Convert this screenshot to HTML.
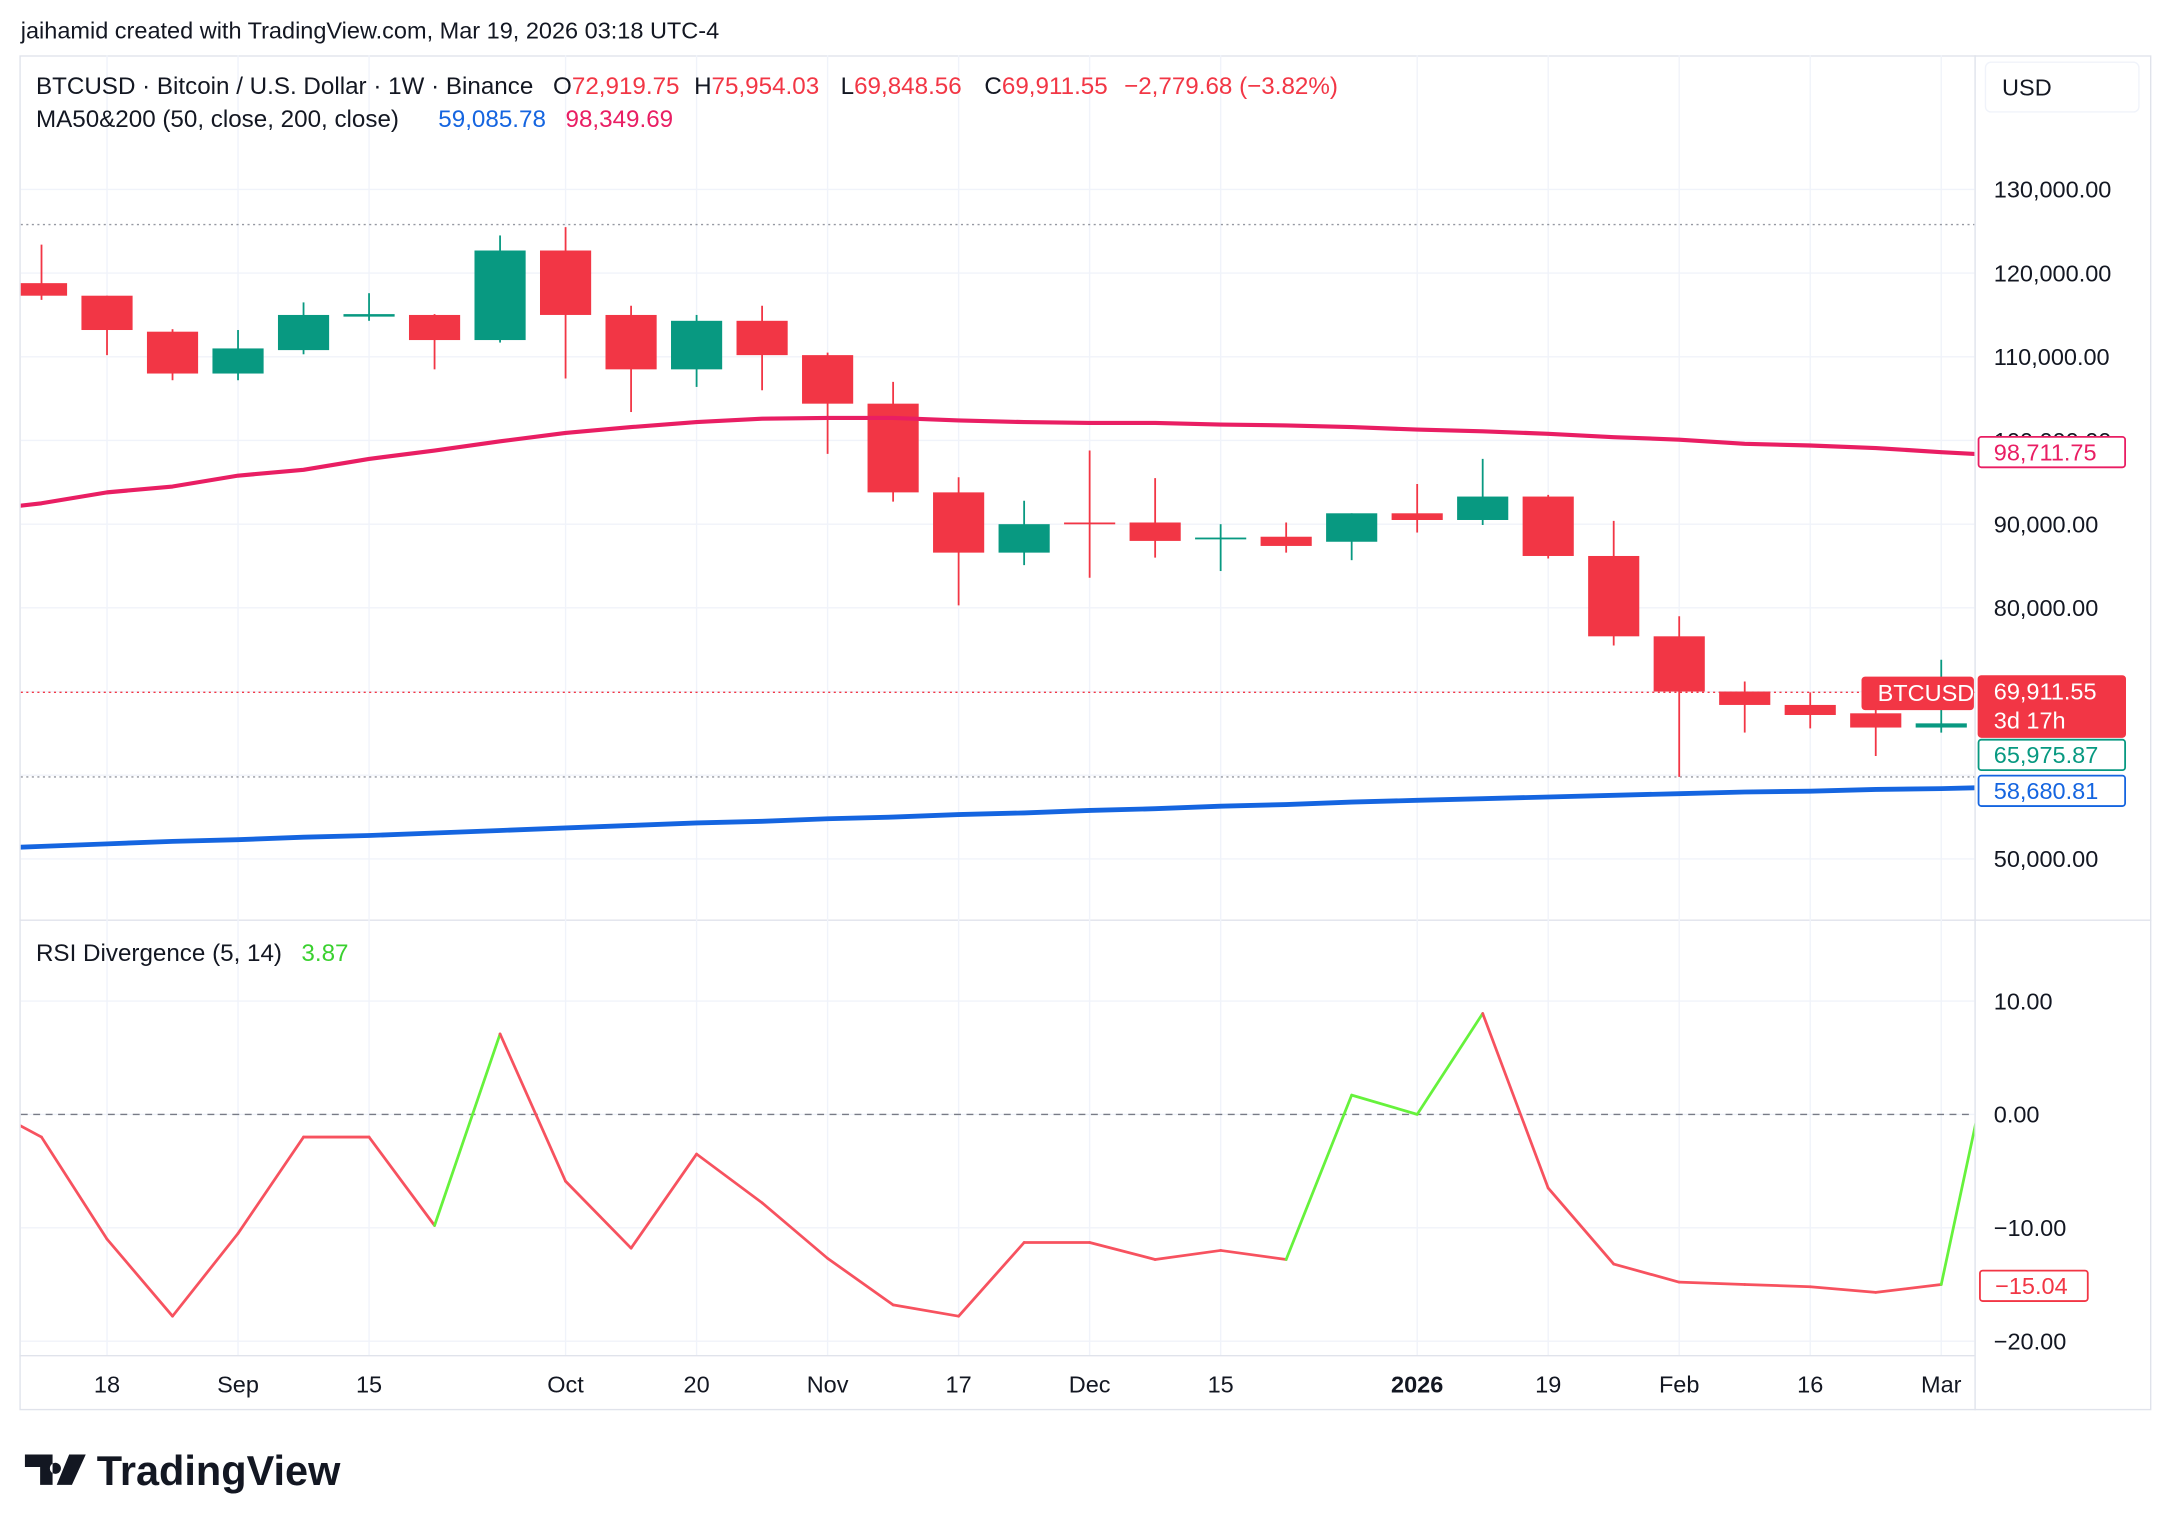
<!DOCTYPE html>
<html><head><meta charset="utf-8"><style>
html,body{margin:0;padding:0;background:#fff;}
svg{display:block;font-family:"Liberation Sans",sans-serif;}
</style></head><body>
<svg id="c" width="2168" height="1530" viewBox="0 0 1568 1106.6" xmlns="http://www.w3.org/2000/svg">
<defs><clipPath id="clipMain"><rect x="15" y="40" width="1413" height="625"/></clipPath>
<clipPath id="clipRsi"><rect x="15" y="666" width="1413" height="314"/></clipPath></defs>
<rect width="1568" height="1106.6" fill="#fff"/>
<text x="15" y="28" font-size="17" fill="#131722">jaihamid created with TradingView.com, Mar 19, 2026 03:18 UTC-4</text>
<rect x="14.5" y="40.5" width="1541" height="979" fill="none" stroke="#e0e3eb"/>
<line x1="1428.5" y1="40" x2="1428.5" y2="1020" stroke="#e0e3eb"/>
<line x1="14" y1="665.5" x2="1556" y2="665.5" stroke="#e0e3eb"/>
<line x1="14" y1="980.5" x2="1428" y2="980.5" stroke="#e0e3eb"/>
<g id="grid"></g>
<g id="main" clip-path="url(#clipMain)"></g>
<g id="rsi" clip-path="url(#clipRsi)"></g>
<g id="axes"></g>
<g font-size="17.5">
<text x="26" y="68" fill="#131722">BTCUSD · Bitcoin / U.S. Dollar · 1W · Binance</text>
<text x="400" y="68" fill="#131722">O<tspan fill="#f23645">72,919.75</tspan></text>
<text x="502" y="68" fill="#131722">H<tspan fill="#f23645">75,954.03</tspan></text>
<text x="608" y="68" fill="#131722">L<tspan fill="#f23645">69,848.56</tspan></text>
<text x="712" y="68" fill="#131722">C<tspan fill="#f23645">69,911.55</tspan></text>
<text x="813" y="68" fill="#f23645">−2,779.68 (−3.82%)</text>
<text x="26" y="92" fill="#131722">MA50&amp;200 (50, close, 200, close)</text>
<text x="317" y="92" fill="#1565e0">59,085.78</text>
<text x="409" y="92" fill="#e91e63">98,349.69</text>
<text x="26" y="695" fill="#131722">RSI Divergence (5, 14)</text>
<text x="218" y="695" fill="#3ad12f">3.87</text>
</g>
<rect x="1436" y="45" width="111" height="36" rx="4" fill="#fff" stroke="#f0f3fa"/>
<text x="1448" y="69" font-size="17" fill="#131722">USD</text>
<g>
<path d="M18 1052h20v22h-9v-13h-11z M40 1058a4 4 0 1 0 0.1 0z M50 1052h12l-10 22h-11z" fill="#131722"/>
<text x="70" y="1074" font-size="30" font-weight="bold" fill="#131722">TradingView</text>
</g>
</svg>
<script>
const cats=["Aug 11","18","Aug 25","Sep","Sep 8","15","Sep 22","Sep 29","Oct","Oct 13","20","Oct 27","Nov","Nov 10","17","Nov 24","Dec","Dec 8","15","Dec 22","Dec 29","2026","Jan 12","19","Jan 26","Feb","Feb 9","16","Feb 23","Mar"];
const opens=[118800,117300,113000,108000,110800,114800,115000,112000,122700,115000,108500,114300,110200,104400,93800,86600,90200,90200,88200,88500,87900,91300,90500,93300,86200,76600,70000,68400,67400,65700];
const highs=[123400,117300,113300,113200,116500,117600,115100,124500,125500,116100,115000,116100,110500,107000,95600,92800,98800,95500,90000,90200,91300,94800,97800,93500,90400,79000,71200,69900,69200,73800];
const lows=[116800,110200,107200,107200,110300,114300,108500,111700,107400,103400,106400,106000,98400,92700,80300,85100,83600,86000,84400,86600,85700,89000,89900,85900,75500,59800,65100,65600,62300,65100];
const closes=[117300,113200,108000,111000,115000,115100,112000,122700,115000,108500,114300,110200,104400,93800,86600,90000,90000,88000,88400,87400,91300,90500,93300,86200,76600,70000,68400,67200,65700,66200];
// moving averages: index -1 .. 30 (one week before/after visible range)
const ma200=[91600,92500,93800,94500,95800,96500,97800,98800,99900,100900,101600,102200,102600,102700,102700,102400,102200,102100,102100,101900,101800,101600,101300,101100,100800,100400,100100,99600,99400,99100,98600,98200];
const ma50=[51200,51500,51800,52100,52300,52600,52800,53100,53400,53700,54000,54300,54500,54800,55000,55300,55500,55800,56000,56300,56500,56800,57000,57200,57400,57600,57800,58000,58100,58300,58400,58600];
const rsiVals=[1.1,-2,-11,-17.8,-10.5,-2,-2,-9.8,7.1,-5.9,-11.8,-3.5,-7.8,-12.7,-16.8,-17.8,-11.3,-11.3,-12.8,-12,-12.8,1.7,0,8.9,-6.5,-13.2,-14.8,-15,-15.2,-15.7,-15,12];
const rsiGreen=[0,0,0,0,0,0,0,1,0,0,0,0,0,0,0,0,0,0,0,0,1,1,1,0,0,0,0,0,0,0,1];
const priceTicks=[130000,120000,110000,100000,90000,80000,70000,60000,50000];
const priceTickLabels=["130,000.00","120,000.00","110,000.00","100,000.00","90,000.00","80,000.00","","","50,000.00"];
const rsiTicks=[10,0,-10,-20];
const rsiTickLabels=["10.00","0.00","−10.00","−20.00"];
const timeLabels=[["18",1],["Sep",3],["15",5],["Oct",8],["20",10],["Nov",12],["17",14],["Dec",16],["15",18],["2026",21],["19",23],["Feb",25],["16",27],["Mar",29]];
const periodHigh=125800, periodLow=59800, lastPrice=69911.55;

const NS="http://www.w3.org/2000/svg";
const xOf=i=>30+i*47.38;
const yP=p=>137+(130000-p)*0.006053;
const yR=v=>806-v*8.2;
function mk(tag,attrs,parent,txt){const e=document.createElementNS(NS,tag);for(const k in attrs)e.setAttribute(k,attrs[k]);if(txt!==undefined)e.textContent=txt;parent.appendChild(e);return e;}
const grid=document.getElementById('grid'),main=document.getElementById('main'),rsiG=document.getElementById('rsi'),axes=document.getElementById('axes');

timeLabels.forEach(([t,i])=>{
  mk('line',{x1:xOf(i),x2:xOf(i),y1:40,y2:980,stroke:'#f0f3fa'},grid);
  const tx=mk('text',{x:xOf(i),y:1007,'text-anchor':'middle','font-size':17,fill:'#131722','font-weight':t==='2026'?'bold':'normal'},axes,t);
  
  
});
priceTicks.forEach((p,k)=>{
  mk('line',{x1:15,x2:1428,y1:yP(p),y2:yP(p),stroke:'#f0f3fa'},grid);
  if(priceTickLabels[k]){const t=mk('text',{x:1442,y:yP(p)+6,'font-size':17,fill:'#131722'},axes,priceTickLabels[k]);
  
  }
});
rsiTicks.forEach((v,k)=>{
  mk('line',{x1:15,x2:1428,y1:yR(v),y2:yR(v),stroke:'#f0f3fa'},grid);
  const t=mk('text',{x:1442,y:yR(v)+6,'font-size':17,fill:'#131722'},axes,rsiTickLabels[k]);
  
  
});
mk('line',{x1:15,x2:1428,y1:yR(0),y2:yR(0),stroke:'#787b86','stroke-dasharray':'5 4'},rsiG);

mk('line',{x1:15,x2:1428,y1:yP(periodHigh),y2:yP(periodHigh),stroke:'#9598a1','stroke-dasharray':'1.5 2.5'},main);
mk('line',{x1:15,x2:1428,y1:yP(periodLow),y2:yP(periodLow),stroke:'#9598a1','stroke-dasharray':'1.5 2.5'},main);
mk('line',{x1:15,x2:1428,y1:yP(lastPrice),y2:yP(lastPrice),stroke:'#f23645','stroke-dasharray':'1.5 2.5'},main);

for(let i=0;i<cats.length;i++){
  const up=closes[i]>=opens[i],col=up?'#089981':'#f23645',x=xOf(i);
  const g=mk('g',{},main);
  
  
  mk('line',{x1:x,x2:x,y1:yP(highs[i]),y2:yP(lows[i]),stroke:col,'stroke-width':1.3},g);
  const t=Math.min(yP(opens[i]),yP(closes[i])),h=Math.max(1.3,Math.abs(yP(opens[i])-yP(closes[i])));
  mk('rect',{x:x-18.5,y:t,width:37,height:h,fill:col},g);
}
function line(vals,off,color,w,parent,name){
  const pts=vals.map((v,i)=>xOf(i+off)+','+(parent===rsiG?yR(v):yP(v))).join(' ');
  const l=mk('polyline',{points:pts,fill:'none',stroke:color,'stroke-width':w,'stroke-linejoin':'round'},parent);
  
  
}
line(ma200,-1,'#e91e63',3,main,'ma200-line');
line(ma50,-1,'#1565e0',3.5,main,'ma50-line');
for(let i=0;i<rsiVals.length-1;i++){
  const s=mk('line',{x1:xOf(i-1),y1:yR(rsiVals[i]),x2:xOf(i),y2:yR(rsiVals[i+1]),stroke:rsiGreen[i]?'#66f23c':'#f7525f','stroke-width':2,'stroke-linecap':'round'},rsiG);
  
  
}
function tag(y,h,text,fill,stroke,color,name,x=1431,w=106){
  const g=mk('g',{},axes);
  
  
  mk('rect',{x:x,y:y,width:w,height:h,rx:2,fill:fill,stroke:stroke,'stroke-width':1.3},g);
  text.forEach((t,k)=>mk('text',{x:x+11,y:y+17+k*21,'font-size':17,fill:color},g,t));
}
tag(316,22,["98,711.75"],'#fff','#e91e63','#e91e63','ma200-price-tag');
tag(489,44,["69,911.55","3d 17h"],'#f23645','#f23645','#fff','last-price-tag');
tag(535,22,["65,975.87"],'#fff','#089981','#089981','low-price-tag');
tag(561,22,["58,680.81"],'#fff','#1565e0','#1565e0','ma50-price-tag');
tag(919,22,["−15.04"],'#fff','#f23645','#f23645','rsi-value-tag',1432,78);
tag(490,23,["BTCUSD"],'#f23645','#f23645','#fff','symbol-tag',1347,80);
</script>
</body></html>
